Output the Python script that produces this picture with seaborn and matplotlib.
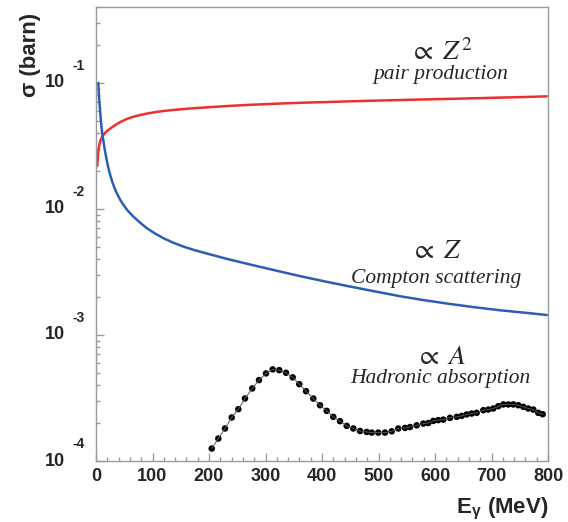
import matplotlib
matplotlib.use("Agg")
import matplotlib.pyplot as plt
import seaborn as sns
import pandas as pd
from matplotlib.ticker import MultipleLocator, LogLocator, NullFormatter

# pair production (red)
pair_e = [2.3, 3.0, 4.0, 5.0, 6.5, 8.0, 10, 13, 16, 20, 25, 30, 37, 45, 55, 65, 78, 92,
          107, 122, 137, 166, 202, 240, 273, 320, 361, 410, 450, 500, 538, 580, 627,
          670, 715, 760, 798]
pair_sigma = [0.0220, 0.0248, 0.0280, 0.0305, 0.0332, 0.0350, 0.0366, 0.0385, 0.0401,
              0.0417, 0.0433, 0.0450, 0.0472, 0.0494, 0.0518, 0.0537, 0.0556, 0.0573,
              0.0588, 0.0600, 0.0610, 0.0626, 0.0642, 0.0658, 0.0670, 0.0684, 0.0695,
              0.0705, 0.0714, 0.0724, 0.0731, 0.0739, 0.0747, 0.0755, 0.0764, 0.0773,
              0.0782]

# Compton scattering (blue)
compton_e = [4.1, 5.0, 6.0, 7.1, 8.5, 10.1, 11.5, 12.9, 15.5, 18.9, 21.5, 24.8, 29, 33,
             36.6, 42, 48.3, 56, 66, 77, 89.7, 104, 119, 136, 155, 175, 200, 235, 273,
             315, 361, 405, 450, 495, 538, 580, 627, 670, 715, 760, 798]
compton_sigma = [0.100, 0.0830, 0.0700, 0.0614, 0.0510, 0.0430, 0.0385, 0.0350, 0.0295,
                 0.0245, 0.0215, 0.0188, 0.0163, 0.0146, 0.0134, 0.0120, 0.0108, 0.00970,
                 0.00871, 0.00785, 0.00705, 0.00640, 0.00587, 0.00541, 0.00502, 0.00470,
                 0.00438, 0.00398, 0.00362, 0.00327, 0.00293, 0.00266, 0.00242, 0.00221,
                 0.00203, 0.00189, 0.00176, 0.00166, 0.00157, 0.00150, 0.00144]

# hadronic absorption (black dots)
hadr_e = [204.8, 216.5, 228.3, 240.2, 251.9, 263.7, 276.6, 288.5, 300.9, 312.7, 324.4,
          336.3, 348.1, 359.8, 371.7, 384.6, 396.5, 408.3, 420.0, 431.9, 443.7, 455.4,
          467.3, 479.1, 488.0, 499.6, 511.5, 523.4, 535.0, 546.9, 555.8, 567.6, 579.3,
          588.1, 597.0, 605.8, 614.7, 626.5, 638.4, 647.2, 656.1, 664.9, 673.8, 685.5,
          694.3, 703.2, 712.0, 720.9, 729.7, 738.6, 747.4, 756.3, 765.1, 774.0, 782.8,
          790.6]
hadr_sigma = [1.256e-4, 1.507e-4, 1.811e-4, 2.215e-4, 2.577e-4, 3.135e-4, 3.764e-4,
              4.384e-4, 4.955e-4, 5.33e-4, 5.26e-4, 5.01e-4, 4.61e-4, 4.07e-4, 3.58e-4,
              3.13e-4, 2.77e-4, 2.50e-4, 2.24e-4, 2.07e-4, 1.90e-4, 1.81e-4, 1.73e-4,
              1.70e-4, 1.68e-4, 1.68e-4, 1.68e-4, 1.72e-4, 1.81e-4, 1.83e-4, 1.86e-4,
              1.92e-4, 1.98e-4, 2.00e-4, 2.08e-4, 2.11e-4, 2.13e-4, 2.20e-4, 2.24e-4,
              2.28e-4, 2.34e-4, 2.38e-4, 2.41e-4, 2.53e-4, 2.56e-4, 2.61e-4, 2.72e-4,
              2.81e-4, 2.81e-4, 2.81e-4, 2.77e-4, 2.69e-4, 2.61e-4, 2.56e-4, 2.41e-4,
              2.35e-4]

decades = [1e-1, 1e-2, 1e-3, 1e-4]
decade_exp = ["-1", "-2", "-3", "-4"]

sns.set_style("white")
plt.rcParams["font.family"] = ["Liberation Sans", "DejaVu Sans"]
plt.rcParams["mathtext.fontset"] = "stix"

fig = plt.figure(figsize=(5.68, 5.22), dpi=100)
ax = fig.add_axes([96 / 568, 1 - 461 / 522, 452 / 568, 454 / 522])

pair = pd.DataFrame({"E": pair_e, "sigma": pair_sigma})
compton = pd.DataFrame({"E": compton_e, "sigma": compton_sigma})
hadr = pd.DataFrame({"E": hadr_e, "sigma": hadr_sigma})

sns.lineplot(data=pair, x="E", y="sigma", color="#ee2f2f", lw=1.8, ax=ax)
sns.lineplot(data=compton, x="E", y="sigma", color="#2d5db3", lw=1.8, ax=ax)
sns.lineplot(data=hadr, x="E", y="sigma", color="#555555", lw=0.7, ax=ax)
sns.scatterplot(data=hadr, x="E", y="sigma", color="black", s=22, edgecolor="none", ax=ax)

ax.set_yscale("log")
ax.set_xlim(0, 800)
ax.set_ylim(1e-4, 0.4)

gray = "#9a9a9a"
for sp in ax.spines.values():
    sp.set_color(gray)
    sp.set_linewidth(1.0)
    sp.set_visible(True)

ax.xaxis.set_major_locator(MultipleLocator(100))
ax.xaxis.set_minor_locator(MultipleLocator(20))
ax.yaxis.set_major_locator(LogLocator(base=10))
ax.yaxis.set_minor_locator(LogLocator(base=10, subs=range(2, 10)))
ax.yaxis.set_major_formatter(NullFormatter())
ax.yaxis.set_minor_formatter(NullFormatter())
ax.tick_params(axis="both", which="both", direction="in", color=gray, width=1.0,
               left=True, bottom=True, right=False, top=False)
ax.tick_params(axis="both", which="major", length=6)
ax.tick_params(axis="both", which="minor", length=3)
ax.tick_params(axis="x", which="major", labelsize=13, pad=5)
for lab in ax.get_xticklabels():
    lab.set_fontweight("bold")

ax.set_xlabel("")
ax.set_ylabel("")

# log-axis labels in ROOT style: "10" with raised exponent
ytr = ax.get_yaxis_transform()
for val, ex in zip(decades, decade_exp):
    ax.text(-0.068, val, "10", transform=ytr, ha="right", va="center",
            fontsize=13, fontweight="bold")
    ax.text(-0.051, val * 10 ** 0.135, ex, transform=ytr, ha="left", va="center",
            fontsize=10, fontweight="bold")

ax.text(-0.146, 0.894, "σ (barn)", transform=ax.transAxes, rotation=90,
        ha="center", va="center", fontsize=16, fontweight="bold")
ax.text(1.0, -0.1145, r"E$_\mathregular{γ}$ (MeV)", transform=ax.transAxes, ha="right",
        va="baseline", fontsize=16, fontweight="bold")

serif = dict(family="Liberation Serif", ha="center", va="center")
ax.text(610, 0.174, r"$\propto\ Z^2$", fontsize=20, **serif)
ax.text(610, 0.116, "pair production", fontsize=15.5, style="italic", **serif)
ax.text(602, 4.56e-3, r"$\propto\ Z$", fontsize=20, **serif)
ax.text(602, 2.78e-3, "Compton scattering", fontsize=15.5, style="italic", **serif)
ax.text(610, 6.67e-4, r"$\propto\ A$", fontsize=20, **serif)
ax.text(610, 4.54e-4, "Hadronic absorption", fontsize=15.5, style="italic", **serif)

fig.savefig("out.png", dpi=100)
